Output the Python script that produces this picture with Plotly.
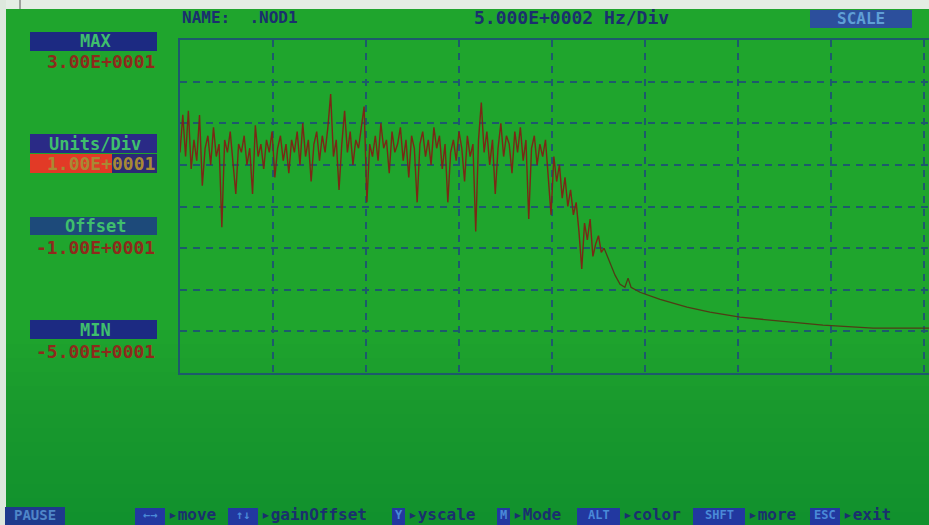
import plotly.graph_objects as go
import numpy as np

# ---------------- data ----------------
bin_hz = 15.0
noise_db = [
    3, 12, 2, 13, -1, 6, 1, 12, -5, 4,
    7, 0, 9, 2, 5, -15, 6, 3, 8, 1,
    -7, 5, 3, 7, 0, 4, -7, 9.5, 2, 5,
    -1, 6, 3, 8, -3, 4, 7, 1, 5, -2,
    6, 3, 8, 0, 10, 2, 6, -4, 5, 8,
    1, 7, 3, 9, 17, 2, 6, -6, 5, 13,
    3, 8, 0, 6, 4, 9, 14, -9, 5, 2,
    7, 1, 10, 4, 6, -2, 8, 3, 5, 9,
    1, 6, -3, 7, 4, -9, 5, 8, 2, 6,
    0, 9, 4, 7, -1, 5, -9, 3, 6, 1,
    8, 4, -4, 7, 2, 5, -16, 6, 15, 3,
    8, 0, 6, -7, 4, 10, 2, 7, 5, -2,
    8, 3, 9, 1, 6, -13, 4, 7, 0, 5,
    2, 6, -3, -12, 2, -4, 0, -8, -3, -10,
    -6, -12, -9, -16, -25, -14, -18, -13, -22, -19,
    -17, -21, -20,
]
noise_hz = np.arange(len(noise_db)) * bin_hz

tail_hz = [2280, 2312, 2339, 2366, 2392, 2409, 2425, 2473, 2581, 2726,
           2849, 3011, 3226, 3457, 3726, 4027]
tail_db = [-20, -23.4, -26.5, -28.7, -29.4, -27.2, -29.4, -30.6, -32.3, -34.2,
           -35.4, -36.6, -37.5, -38.5, -39.2, -39.2]

x_range = [0, 4027]
y_range = [-50, 30]
hz_per_div = 500
units_per_div = 10

side_labels = ["MAX", "Units/Div", "Offset", "MIN"]
side_values = ["3.00E+0001", "1.00E+0001", "-1.00E+0001", "-5.00E+0001"]
header_name = "NAME:  .NOD1"
header_scale = "5.000E+0002 Hz/Div"
key_caps = ["←→", "↑↓", "Y", "M", "ALT", "SHFT", "ESC"]
key_words = ["move", "gainOffset", "yscale", "Mode", "color", "more", "exit"]

# ---------------- layout helpers ----------------
W, H = 929, 525
L, T, B = 180, 40, 373
PW, PH = W - L, B - T


def px(x):
    return (x - L) / PW


def py(y):
    return (B - y) / PH


BG = "#1fa52d"
GRID = "#1d5a6c"
NAVY = "#1c2a82"
DARKTXT = "#1a2f6e"
RED = "#8e2a1c"
MONO = "DejaVu Sans Mono"

fig = go.Figure()
fig.add_trace(go.Scatter(x=noise_hz, y=noise_db, mode="lines",
                         line=dict(color="#7a2815", width=1.4), showlegend=False))
fig.add_trace(go.Scatter(x=tail_hz, y=tail_db, mode="lines",
                         line=dict(color="#503c16", width=1.3), showlegend=False))

shapes = []
annotations = []


def rect(x0, y0, x1, y1, color, layer="above", opacity=1.0):
    shapes.append(dict(type="rect", xref="paper", yref="paper",
                       x0=px(x0), x1=px(x1), y0=py(y1), y1=py(y0),
                       fillcolor=color, line=dict(width=0), layer=layer,
                       opacity=opacity))


def text(x, y, s, color, size, anchor="center", weight="bold"):
    annotations.append(dict(xref="paper", yref="paper", x=px(x), y=py(y),
                            text=s, showarrow=False, xanchor=anchor,
                            yanchor="middle",
                            font=dict(family=MONO, size=size, color=color,
                                      weight=weight)))


# soft vertical shading of the photographed screen (darker toward the bottom)
for k in range(14):
    rect(6, 330 + k * 14, W, 525, "#0a7a30", layer="below", opacity=0.018)

# screen edge / photo framing
rect(0, 0, W, 9, "#e4ede4")
rect(0, 0, 6, H, "#dde8dd")
shapes.append(dict(type="line", xref="paper", yref="paper",
                   x0=px(20), x1=px(20), y0=py(0), y1=py(9),
                   line=dict(color="#555555", width=1)))

# header
text(180, 18, header_name, DARKTXT, 16, anchor="left")
text(472, 18, header_scale, DARKTXT, 18, anchor="left")
rect(810, 10, 912, 28, "#2c4f9c")
text(861, 19, "SCALE", "#5f9fd6", 16)

# side panel
box_rows = [(32, 51, NAVY), (134, 153, "#2a2a86"), (217, 235, "#1d4a7a"), (320, 339, NAVY)]
value_y = [61, 163, 247, 351]
for (y0, y1, col), lab, val, vy in zip(box_rows, side_labels, side_values, value_y):
    rect(30, y0, 157, y1, col)
    text(95, (y0 + y1) / 2, lab, "#3fbf6c", 17)
    if lab == "Units/Div":
        rect(30, 154, 112, 173, "#e23a26")
        rect(112, 154, 157, 173, "#2a2a74")
        text(157, vy, val, "#a88a34", 18, anchor="right")
    else:
        text(157, vy, val, RED, 18, anchor="right")

# bottom key bar
rect(5, 507, 65, 525, "#1e3a8c")
text(35, 515, "PAUSE", "#4f86c8", 14)
cap_pos = [(135, 165), (228, 258), (392, 405), (497, 510), (577, 620), (693, 745), (810, 840)]
for (x0, x1), cap, word in zip(cap_pos, key_caps, key_words):
    rect(x0, 508, x1, 525, "#2238a0")
    text((x0 + x1) / 2, 515, cap, "#4a8ad8", 12)
    text(x1 + 1, 514, "▸" + word, DARKTXT, 16, anchor="left")

fig.update_layout(
    width=W, height=H,
    margin=dict(l=L, r=0, t=T, b=H - B, pad=0),
    paper_bgcolor=BG, plot_bgcolor=BG,
    shapes=shapes, annotations=annotations,
    xaxis=dict(range=x_range, dtick=hz_per_div, tick0=0, showticklabels=False,
               ticks="", showgrid=True, gridcolor=GRID, gridwidth=1.5,
               griddash="7px,6px", zeroline=False, showline=True, mirror=True,
               linecolor=GRID, linewidth=1.5, fixedrange=True),
    yaxis=dict(range=y_range, dtick=units_per_div, tick0=0, showticklabels=False,
               ticks="", showgrid=True, gridcolor=GRID, gridwidth=1.5,
               griddash="7px,6px", zeroline=False, showline=True, mirror=False,
               linecolor=GRID, linewidth=1.5, fixedrange=True),
    showlegend=False,
)

fig.write_html("out.html", config={"displayModeBar": False},
               post_script="document.body.style.margin='0';"
                           "document.body.style.overflow='hidden';")
